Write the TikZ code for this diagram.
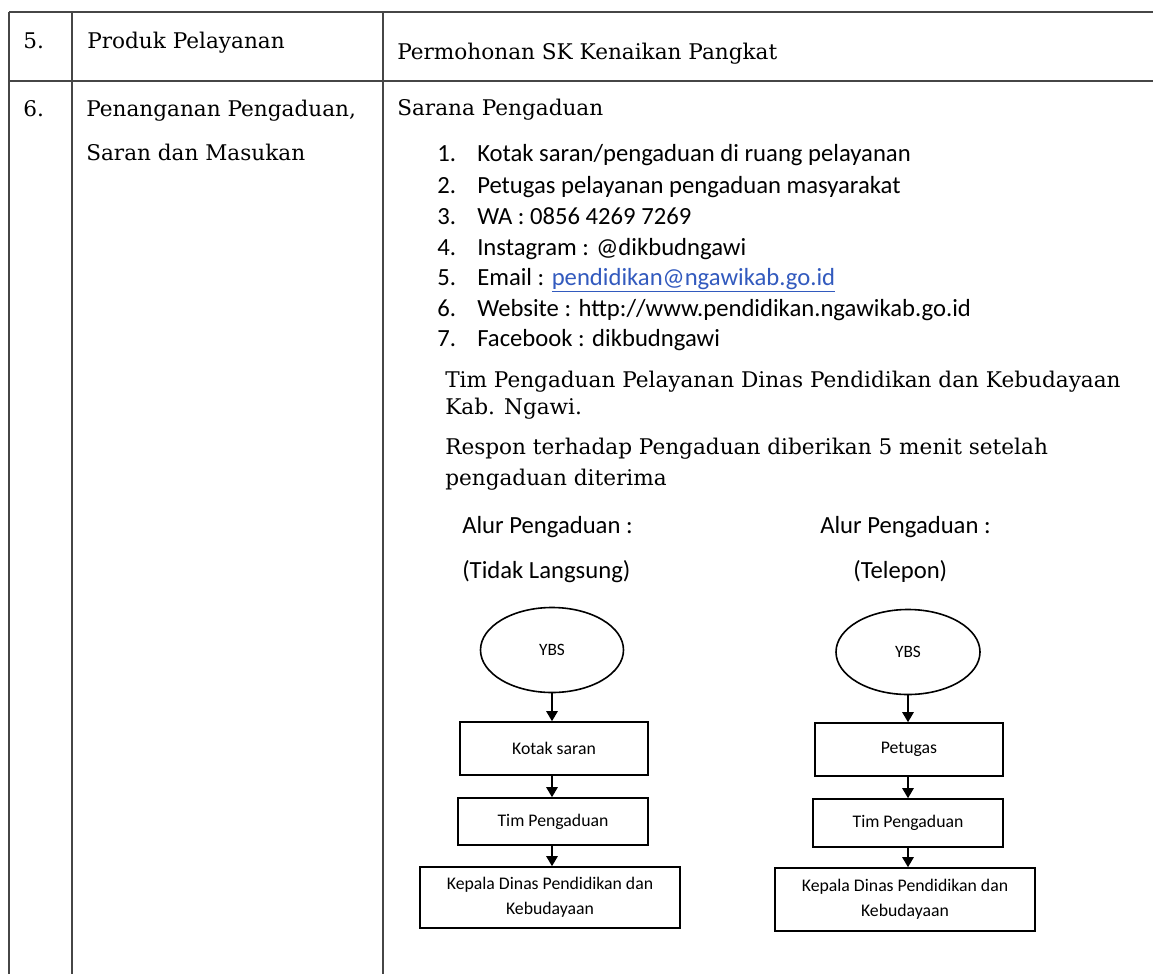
\documentclass[tikz,border=0pt]{standalone}
\usepackage{fontspec}
\setmainfont{DejaVu Serif}
\newfontfamily\calib{Carlito}
\usetikzlibrary{shapes.geometric,arrows.meta}
\definecolor{rule}{RGB}{70,70,70}
\definecolor{linkblue}{RGB}{50,90,190}
\tikzset{
  serif/.style={font=\rmfamily\fontsize{16.2}{19}\selectfont, anchor=base west, inner sep=0pt},
  listtxt/.style={font=\calib\fontsize{18.5}{22}\selectfont, anchor=base west, inner sep=0pt},
  boxtxt/.style={font=\calib\fontsize{13.3}{18.75}\selectfont, align=center},
  flowbox/.style={draw, line width=1.2pt, inner sep=0pt},
  ybs/.style={draw, ellipse, line width=1.2pt, inner sep=0pt, font=\calib\fontsize{13}{15}\selectfont},
  flowarrow/.style={line width=1.2pt, -{Triangle[length=7.5pt,width=8.5pt]}},
  tablerule/.style={rule, line width=1.3pt},
}
\begin{document}
\begin{tikzpicture}[x=0.75pt, y=-0.75pt]
\useasboundingbox (0,0) rectangle (1153,974);
\fill[white] (0,0) rectangle (1153,974);

% table frame
\coordinate (tl) at (9,12);
\coordinate (tr) at (1153,12);
\coordinate (ml) at (9,81);
\coordinate (mr) at (1153,81);
\coordinate (c1t) at (72,12);
\coordinate (c1b) at (72,974);
\coordinate (c2t) at (383,12);
\coordinate (c2b) at (383,974);
\coordinate (bl) at (9,974);
\draw[tablerule] (tl) -- (tr);
\draw[tablerule] (ml) -- (mr);
\draw[tablerule] (tl) -- (bl);
\draw[tablerule] (c1t) -- (c1b);
\draw[tablerule] (c2t) -- (c2b);

% row 5
\node[serif] (n5) at (23,49) {5.};
\node[serif] (p5) at (87,49) {Produk Pelayanan};
\node[serif] (d5) at (397,60) {Permohonan SK Kenaikan Pangkat};

% row 6
\node[serif] (n6) at (23,117) {6.};
\node[serif] (p6a) at (86,117) {Penanganan Pengaduan,};
\node[serif] (p6b) at (86,160) {Saran dan Masukan};
\node[serif] (sar) at (397,115) {Sarana Pengaduan};

% list of complaint channels
\foreach \i/\yy/\t in {1/161/{Kotak saran/pengaduan di ruang pelayanan},
                       2/193/{Petugas pelayanan pengaduan masyarakat},
                       3/224/{WA : 0856 4269 7269},
                       4/255/{Instagram : @dikbudngawi},
                       5/285/{Email : {\color{linkblue}\underline{pendidikan@ngawikab.go.id}}},
                       6/316/{Website : http://www.pendidikan.ngawikab.go.id},
                       7/346/{Facebook : dikbudngawi}} {
  \node[listtxt] (num\i) at (437,\yy) {\i.};
  \node[listtxt] (item\i) at (477,\yy) {\t};
}

\node[serif] (tim1) at (445,387) {Tim Pengaduan Pelayanan Dinas Pendidikan dan Kebudayaan};
\node[serif] (tim2) at (445,414) {Kab. Ngawi.};
\node[serif] (res1) at (445,454) {Respon terhadap Pengaduan diberikan 5 menit setelah};
\node[serif] (res2) at (445,485) {pengaduan diterima};

% flow headings
\node[listtxt] (hA1) at (462,533) {Alur Pengaduan :};
\node[listtxt] (hA2) at (462,578) {(Tidak Langsung)};
\node[listtxt] (hB1) at (820,533) {Alur Pengaduan :};
\node[listtxt] (hB2) at (853,578) {(Telepon)};

% indirect complaint flow
\node[ybs, minimum width=143*0.75pt, minimum height=85*0.75pt] (ya) at (552,650) {YBS};
\node[flowbox, boxtxt, minimum width=188*0.75pt, minimum height=53*0.75pt] (ka) at (554,748.5) {Kotak saran};
\node[flowbox, boxtxt, minimum width=190*0.75pt, minimum height=47*0.75pt] (ta) at (553,821.5) {Tim Pengaduan};
\node[flowbox, boxtxt, minimum width=260*0.75pt, minimum height=61*0.75pt] (da) at (550,897.5) {Kepala Dinas Pendidikan dan\\Kebudayaan};
\draw[flowarrow] (ya.south) -- (ya.south |- ka.north);
\draw[flowarrow] (ya.south |- ka.south) -- (ya.south |- ta.north);
\draw[flowarrow] (ya.south |- ta.south) -- (ya.south |- da.north);

% telephone complaint flow
\node[ybs, minimum width=144*0.75pt, minimum height=85*0.75pt] (yb) at (908,652) {YBS};
\node[flowbox, boxtxt, minimum width=188*0.75pt, minimum height=53*0.75pt] (kb) at (909,749.5) {Petugas};
\node[flowbox, boxtxt, minimum width=190*0.75pt, minimum height=48*0.75pt] (tb) at (908,823) {Tim Pengaduan};
\node[flowbox, boxtxt, minimum width=260*0.75pt, minimum height=63*0.75pt] (db) at (905,899.5) {Kepala Dinas Pendidikan dan\\Kebudayaan};
\draw[flowarrow] (yb.south) -- (yb.south |- kb.north);
\draw[flowarrow] (yb.south |- kb.south) -- (yb.south |- tb.north);
\draw[flowarrow] (yb.south |- tb.south) -- (yb.south |- db.north);
\end{tikzpicture}
\end{document}
